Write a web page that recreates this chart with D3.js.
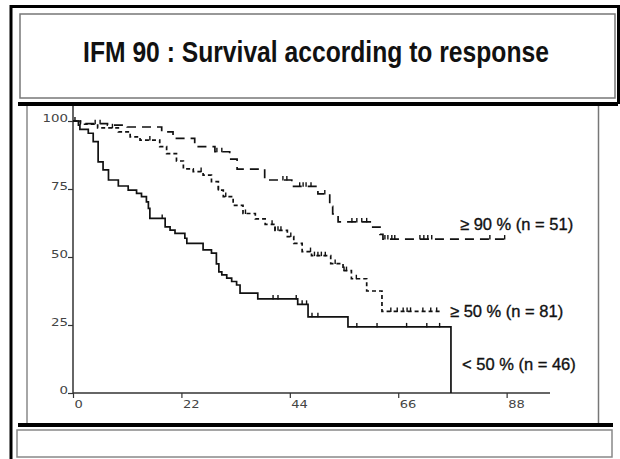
<!DOCTYPE html>
<html>
<head>
<meta charset="utf-8">
<script src="https://cdn.jsdelivr.net/npm/d3@7"></script>
<style>
body { margin: 0; background: #fff; }
svg { display: block; }
.tick-label { font-family: "DejaVu Sans", sans-serif; font-size: 10.5px; fill: #444; }
.legend { font-family: "Liberation Sans", Arial, sans-serif; font-size: 16.5px; fill: #111; stroke: #111; stroke-width: 0.35px; }
.title { font-family: "Liberation Sans", Arial, sans-serif; font-size: 29px; font-weight: bold; fill: #111; }
</style>
</head>
<body>
<svg width="620" height="459"></svg>
<script>
var svg = d3.select("svg"),
    width = +svg.attr("width"),
    height = +svg.attr("height");

// survival steps [month, % alive]
var vgpr = [[0,100],[1.5,99],[7,98.5],[11,97.8],[18,96],[20.3,93.6],[24.7,90.6],[28.8,88.7],[31.8,86],[33.3,82.3],
    [38.9,78.3],[44.4,76],[49.7,73.2],[52.1,68.6],[52.7,65.8],[53.8,62.9],[60.6,61],[62.3,58.3],[62.9,56.6],[88,56.6]];
var pr = [[0,100],[1.5,98.8],[5,97.5],[9.2,96],[11.6,94.2],[13.6,93],[17.6,90.6],[19,88],[21,85.3],[22.4,82.4],
    [24.4,81.4],[26.4,80.1],[28.1,77.7],[29.5,74.6],[30.5,72.2],[32.5,69],[34.5,66],[37,64],[39,62],[41,59.8],
    [43.5,57.5],[44.8,55],[46.5,52],[48.4,50.5],[52.3,47.6],[54.8,45],[56.5,42],[59.6,37.5],[62.7,30],[74.4,30]];
var nr = [[0,100],[1.1,98.5],[1.4,96.9],[3.1,95.5],[4.1,92.4],[5.1,85],[6.1,82],[7.2,78.3],[9.2,76.1],[11.2,74.6],
    [12.9,73.4],[13.9,72.2],[14.9,70.3],[15.3,67.9],[15.6,64.2],[18.7,61.1],[19.7,59.9],[20.7,58.7],[22.7,56.9],
    [23.1,55],[26.4,52.6],[28.1,51.4],[29.1,47.5],[29.6,44.5],[30.2,43.4],[31.2,42.2],[32.2,41],[33.2,39.7],
    [33.9,36.7],[37.5,34.6],[45.6,32.6],[47.7,28],[55.8,24.3],[76.7,0]];

// censored patients (months)
var vgprCensor = [4.5,5.5,29.2,30.2,42.6,43.4,46,46.7,47.3,48.3,51.1,56.6,57.6,58.6,59.6,63.3,63.9,64.7,65.3,70.4,71.2,72,72.8,84.6,87.6];
var prCensor = [8,15.6,26,29.5,31,35,40.4,41,41.6,42.2,44.2,48.2,49,49.7,50.4,51.2,53.2,55,55.5,57.5,64.5,65.8,67,67.8,68.5,71,72.6,73.8];
var nrCensor = [0.4,18.1,40.6,41.6,45.3,46.5,47.4,48.5,49.7,57.6,61.7,67.7,71.8,74.4];

var seriesNames = ["\u2265 90 % (n = 51)", "\u2265 50 % (n = 81)", "< 50 % (n = 46)"];
var xTicks = [0, 22, 44, 66, 88];
var yTicks = [0, 25, 50, 75, 100];
var titleText = "IFM 90 : Survival according to response";

// slide frame
svg.append("rect").attr("width", width).attr("height", height).attr("fill", "#fff");
svg.append("line").attr("x1", 11).attr("x2", 11).attr("y1", 5).attr("y2", height)
    .attr("stroke", "#000").attr("stroke-width", 3);
svg.append("line").attr("x1", 10).attr("x2", width).attr("y1", 6.5).attr("y2", 6.5)
    .attr("stroke", "#000").attr("stroke-width", 3);
svg.append("line").attr("x1", 618.5).attr("x2", 618.5).attr("y1", 5).attr("y2", 104)
    .attr("stroke", "#000").attr("stroke-width", 3);
svg.append("rect").attr("x", 20).attr("y", 14).attr("width", 595).attr("height", 84)
    .attr("fill", "#fff").attr("stroke", "#777").attr("stroke-width", 1.5);
svg.append("rect").attr("x", 18).attr("y", 102).attr("width", 600).attr("height", 4).attr("fill", "#000");
svg.append("line").attr("x1", 27).attr("x2", 27).attr("y1", 106).attr("y2", 423)
    .attr("stroke", "#888").attr("stroke-width", 1.5);
svg.append("line").attr("x1", 598.5).attr("x2", 598.5).attr("y1", 106).attr("y2", 423)
    .attr("stroke", "#777").attr("stroke-width", 1.5);
svg.append("rect").attr("x", 18).attr("y", 423).attr("width", 595).attr("height", 4).attr("fill", "#000");
svg.append("rect").attr("x", 17).attr("y", 430).attr("width", 595).attr("height", 27)
    .attr("fill", "#fff").attr("stroke", "#888").attr("stroke-width", 1.5);

// title, squeezed horizontally to the narrow face of the slide
var title = svg.append("text").attr("class", "title")
    .attr("text-anchor", "middle")
    .text(titleText);
var squeeze = 466 / title.node().getComputedTextLength();
title.attr("transform", "translate(316,62) scale(" + squeeze + ",1)");

// scales
var x = d3.scaleLinear().domain([0, 96.8]).range([73, 550]);
var y = d3.scaleLinear().domain([0, 100]).range([393, 121]);

var axisColor = "#333";
svg.append("line").attr("x1", x(0)).attr("x2", x(0)).attr("y1", y(0)).attr("y2", 106)
    .attr("stroke", axisColor).attr("stroke-width", 1.5);
svg.append("line").attr("x1", x(0)).attr("x2", x.range()[1]).attr("y1", y(0)).attr("y2", y(0))
    .attr("stroke", axisColor).attr("stroke-width", 1.5);

var yAxis = svg.append("g")
    .attr("transform", "translate(" + x(0) + ",0)")
    .call(d3.axisLeft(y).tickValues(yTicks).tickSize(5).tickSizeOuter(0));
yAxis.select(".domain").remove();
yAxis.selectAll(".tick line").attr("stroke", axisColor).attr("stroke-width", 1.2);
yAxis.selectAll(".tick text")
    .attr("class", "tick-label")
    .attr("x", -5).attr("dy", 0)
    .attr("textLength", function(d) { return String(d).length * 8.5; })
    .attr("lengthAdjust", "spacingAndGlyphs");
yAxis.attr("font-family", null).attr("font-size", null);

var xAxis = svg.append("g")
    .attr("transform", "translate(0," + y(0) + ")")
    .call(d3.axisBottom(x).tickValues(xTicks).tickSize(5).tickSizeOuter(0));
xAxis.select(".domain").remove();
xAxis.selectAll(".tick line").attr("stroke", axisColor).attr("stroke-width", 1.2);
xAxis.selectAll(".tick text")
    .attr("class", "tick-label")
    .attr("text-anchor", "start")
    .attr("x", 1).attr("y", 15).attr("dy", 0)
    .attr("textLength", function(d) { return String(d).length * 8.3; })
    .attr("lengthAdjust", "spacingAndGlyphs");
xAxis.attr("font-family", null).attr("font-size", null);

// curves
var step = d3.line()
    .x(function(d) { return x(d[0]); })
    .y(function(d) { return y(d[1]); })
    .curve(d3.curveStepAfter);

function survAt(data, t) {
    var s = data[0][1];
    data.forEach(function(d) { if (d[0] <= t) s = d[1]; });
    return s;
}

var series = [
    { data: vgpr, censor: vgprCensor, dash: "9,6", width: 1.7 },
    { data: pr, censor: prCensor, dash: "4,3", width: 1.7 },
    { data: nr, censor: nrCensor, dash: null, width: 1.7 }
];

series.forEach(function(s) {
    svg.append("path")
        .datum(s.data)
        .attr("d", step)
        .attr("fill", "none")
        .attr("stroke", "#111")
        .attr("stroke-width", s.width)
        .attr("stroke-dasharray", s.dash);

    svg.append("g").selectAll("line")
        .data(s.censor)
        .enter().append("line")
        .attr("x1", function(d) { return x(d); })
        .attr("x2", function(d) { return x(d); })
        .attr("y1", function(d) { return y(survAt(s.data, d)) - 4; })
        .attr("y2", function(d) { return y(survAt(s.data, d)) + 0.5; })
        .attr("stroke", "#111")
        .attr("stroke-width", 1.4);
});

// curve labels
var labelPos = [[460, 230], [450, 317], [462, 370]];
svg.append("g").selectAll("text")
    .data(seriesNames)
    .enter().append("text")
    .attr("class", "legend")
    .attr("x", function(d, i) { return labelPos[i][0]; })
    .attr("y", function(d, i) { return labelPos[i][1]; })
    .text(function(d) { return d; });
</script>
</body>
</html>
